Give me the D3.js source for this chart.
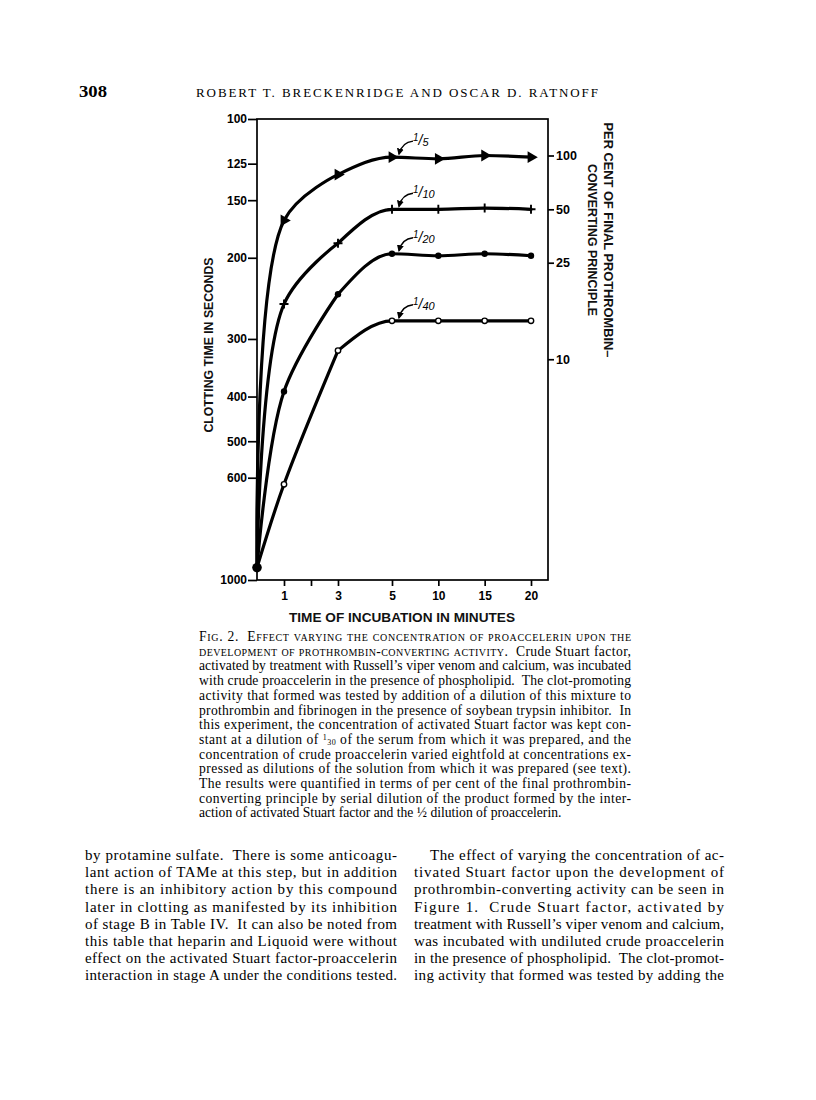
<!DOCTYPE html>
<html><head><meta charset="utf-8">
<script src="https://cdn.jsdelivr.net/npm/d3@7"></script>
<style>body{margin:0;background:#fff}svg{display:block}</style>
</head><body>
<script>
// ---------- data ----------
const times = [0, 1, 3, 5, 10, 15, 20];
const seriesNames = ["1/5", "1/10", "1/20", "1/40"];
const clot_1_5  = [940, 166, 132, 121, 122, 120, 121];
const clot_1_10 = [940, 252, 186, 157, 157, 156, 157];
const clot_1_20 = [940, 390, 240, 196, 198, 196, 198];
const clot_1_40 = [940, 620, 318, 274, 274, 274, 274];
const yTickValues = [100, 125, 150, 200, 300, 400, 500, 600, 1000];
const xTickValues = [1, 2, 3, 5, 10, 15, 20];
const xTickLabels = ["1", "", "3", "5", "10", "15", "20"];
const rightTickLabels = ["100", "50", "25", "10"];
const rightTickClot = [120, 157, 205, 332];

// ---------- setup ----------
const W = 816, H = 1100;
const svg = d3.select("body").append("svg").attr("width", W).attr("height", H);
svg.append("rect").attr("width", W).attr("height", H).attr("fill", "#fff");
const defs = svg.append("defs");
defs.append("marker").attr("id", "ah").attr("viewBox", "0 0 10 10")
  .attr("refX", 8).attr("refY", 5).attr("markerWidth", 5).attr("markerHeight", 5)
  .attr("orient", "auto").append("path").attr("d", "M0,0L10,5L0,10z").attr("fill", "#000");

const SANS = "Liberation Sans, Arial, sans-serif";
const SERIF = "Liberation Serif, Times New Roman, serif";

// ---------- header ----------
svg.append("text").attr("x", 79).attr("y", 97).attr("font-family", SERIF)
  .attr("font-weight", "bold").attr("font-size", 16.5).attr("textLength", 28)
  .attr("lengthAdjust", "spacingAndGlyphs").text("308");
svg.append("text").attr("x", 196).attr("y", 97).attr("font-family", SERIF)
  .attr("font-size", 13).attr("textLength", 402).attr("lengthAdjust", "spacing")
  .text("ROBERT T. BRECKENRIDGE AND OSCAR D. RATNOFF");

// ---------- chart ----------
const L = 257, T = 119, R = 548, B = 580;
const x = d3.scaleLinear().domain([0, 5, 20]).range([L, 392, 531]);
const y = d3.scaleLog().domain([100, 1000]).range([T, B]);

svg.append("rect").attr("x", L).attr("y", T).attr("width", R - L).attr("height", B - T)
  .attr("fill", "none").attr("stroke", "#000").attr("stroke-width", 1.7);

function styleAxis(g, size) {
  g.select(".domain").remove();
  g.selectAll(".tick line").attr("stroke", "#000").attr("stroke-width", 1.7);
  g.selectAll(".tick text").attr("font-family", SANS).attr("font-size", size)
    .attr("font-weight", "bold").attr("fill", "#000");
}
const gL = svg.append("g").attr("transform", `translate(${L},0)`)
  .call(d3.axisLeft(y).tickValues(yTickValues).tickFormat(d => String(d)).tickSize(9).tickPadding(1));
styleAxis(gL, 12);
const gR = svg.append("g").attr("transform", `translate(${R},0)`)
  .call(d3.axisRight(y).tickValues(rightTickClot).tickFormat((d, i) => rightTickLabels[i]).tickSize(6).tickPadding(2));
styleAxis(gR, 12.5);
const gB = svg.append("g").attr("transform", `translate(0,${B})`)
  .call(d3.axisBottom(x).tickValues(xTickValues).tickFormat((d, i) => xTickLabels[i]).tickSize(6).tickPadding(5));
styleAxis(gB, 12);

// axis titles
function title(tr, len, txt) {
  svg.append("text").attr("transform", tr).attr("text-anchor", "middle")
    .attr("font-family", SANS).attr("font-size", 12.5).attr("font-weight", "bold")
    .attr("fill", "#111").attr("textLength", len).attr("lengthAdjust", "spacingAndGlyphs").text(txt);
}
title("translate(213,345) rotate(-90)", 175, "CLOTTING TIME IN SECONDS");
title("translate(604,240) rotate(90)", 235, "PER CENT OF FINAL PROTHROMBIN–");
title("translate(588,240) rotate(90)", 152, "CONVERTING PRINCIPLE");
title("translate(402,622)", 226, "TIME OF INCUBATION IN MINUTES");

// curves: rising part drawn centripetal Catmull-Rom, plateau part monotone
const seriesVals = [clot_1_5, clot_1_10, clot_1_20, clot_1_40];
const markerKinds = ["tri", "plus", "dot", "ring"];
const riseLine = d3.line().x(d => x(d.t)).y(d => y(d.v)).curve(d3.curveCatmullRom.alpha(0.5));
const flatLine = d3.line().x(d => x(d.t)).y(d => y(d.v)).curve(d3.curveMonotoneX);
const gC = svg.append("g");
seriesVals.forEach((vals, si) => {
  const pts = times.map((t, i) => ({ t, v: vals[i] }));
  [riseLine(pts.filter(p => p.t <= 3)), flatLine(pts.filter(p => p.t >= 3))].forEach(d => {
    gC.append("path").attr("d", d)
      .attr("fill", "none").attr("stroke", "#000").attr("stroke-width", 3.2).attr("stroke-linecap", "round");
  });
  pts.slice(1).forEach(p => {
    const cx = x(p.t), cy = y(p.v);
    const k = markerKinds[si];
    if (k === "tri") {
      gC.append("path").attr("d", d3.symbol(d3.symbolTriangle, 60)())
        .attr("transform", `translate(${cx},${cy}) rotate(90)`).attr("fill", "#000");
    } else if (k === "plus") {
      gC.append("path").attr("d", `M${cx - 4.5},${cy}H${cx + 4.5}M${cx},${cy - 4.5}V${cy + 4.5}`)
        .attr("stroke", "#000").attr("stroke-width", 1.9);
    } else if (k === "dot") {
      gC.append("circle").attr("cx", cx).attr("cy", cy).attr("r", 3.2).attr("fill", "#000");
    } else {
      gC.append("circle").attr("cx", cx).attr("cy", cy).attr("r", 2.7)
        .attr("fill", "#fff").attr("stroke", "#000").attr("stroke-width", 1.4);
    }
  });
  // annotation: label and curved arrow near the 5-minute point
  const tip = { x: x(5) + 7, y: y(vals[3]) - 3 };
  gC.append("path")
    .attr("d", `M${tip.x + 14},${tip.y - 13}Q${tip.x + 3},${tip.y - 12} ${tip.x},${tip.y}`)
    .attr("fill", "none").attr("stroke", "#000").attr("stroke-width", 1.4).attr("marker-end", "url(#ah)");
  const [num, den] = seriesNames[si].split("/");
  const lab = gC.append("text").attr("x", tip.x + 14).attr("y", tip.y - 8)
    .attr("font-family", SANS).attr("font-style", "italic").attr("fill", "#000");
  lab.append("tspan").attr("font-size", 10).attr("dy", -5).text(num);
  lab.append("tspan").attr("font-size", 14).attr("dy", 4).text("/");
  lab.append("tspan").attr("font-size", 11).attr("dy", 1).text(den);
});
// common starting point
gC.append("circle").attr("cx", x(times[0])).attr("cy", y(clot_1_5[0])).attr("r", 4.8).attr("fill", "#000");

// ---------- caption ----------
function jline(x0, yb, width, parts, size, justify) {
  const t = svg.append("text").attr("x", x0).attr("y", yb).attr("font-family", SERIF)
    .attr("font-size", size).attr("fill", "#000").attr("xml:space", "preserve");
  parts.forEach(p => {
    const s = t.append("tspan").text(p.t);
    if (p.sc) s.style("font-variant", "small-caps");
    if (p.fs) s.attr("font-size", p.fs);
    if (p.dy !== undefined) s.attr("dy", p.dy);
  });
  if (justify) t.attr("textLength", width).attr("lengthAdjust", "spacing");
}
const capLines = [
  [{ t: "Fig. 2.  Effect varying the concentration of proaccelerin upon the", sc: true }],
  [{ t: "development of prothrombin-converting activity.", sc: true }, { t: "  Crude Stuart factor," }],
  [{ t: "activated by treatment with Russell’s viper venom and calcium, was incubated" }],
  [{ t: "with crude proaccelerin in the presence of phospholipid.  The clot-promoting" }],
  [{ t: "activity that formed was tested by addition of a dilution of this mixture to" }],
  [{ t: "prothrombin and fibrinogen in the presence of soybean trypsin inhibitor.  In" }],
  [{ t: "this experiment, the concentration of activated Stuart factor was kept con-" }],
  [{ t: "stant at a dilution of " }, { t: "1", fs: 8, dy: -4 }, { t: "30", fs: 8, dy: 5 }, { t: " of the serum from which it was prepared, and the", dy: -1 }],
  [{ t: "concentration of crude proaccelerin varied eightfold at concentrations ex-" }],
  [{ t: "pressed as dilutions of the solution from which it was prepared (see text)." }],
  [{ t: "The results were quantified in terms of per cent of the final prothrombin-" }],
  [{ t: "converting principle by serial dilution of the product formed by the inter-" }],
  [{ t: "action of activated Stuart factor and the ½ dilution of proaccelerin." }]
];
capLines.forEach((parts, i) => jline(199, 641 + i * 14.7, 432, parts, 13.6, i < capLines.length - 1));

// ---------- body text ----------
const leftCol = [
  "by protamine sulfate.  There is some anticoagu-",
  "lant action of TAMe at this step, but in addition",
  "there is an inhibitory action by this compound",
  "later in clotting as manifested by its inhibition",
  "of stage B in Table IV.  It can also be noted from",
  "this table that heparin and Liquoid were without",
  "effect on the activated Stuart factor-proaccelerin",
  "interaction in stage A under the conditions tested."
];
const rightCol = [
  "The effect of varying the concentration of ac-",
  "tivated Stuart factor upon the development of",
  "prothrombin-converting activity can be seen in",
  "Figure 1.  Crude Stuart factor, activated by",
  "treatment with Russell’s viper venom and calcium,",
  "was incubated with undiluted crude proaccelerin",
  "in the presence of phospholipid.  The clot-promot-",
  "ing activity that formed was tested by adding the"
];
leftCol.forEach((s, i) => jline(85, 860 + i * 17.2, 312, [{ t: s }], 15, true));
rightCol.forEach((s, i) => {
  const x0 = i === 0 ? 430 : 414;
  jline(x0, 860 + i * 17.2, 724 - x0, [{ t: s }], 15, true);
});
</script>
</body></html>
